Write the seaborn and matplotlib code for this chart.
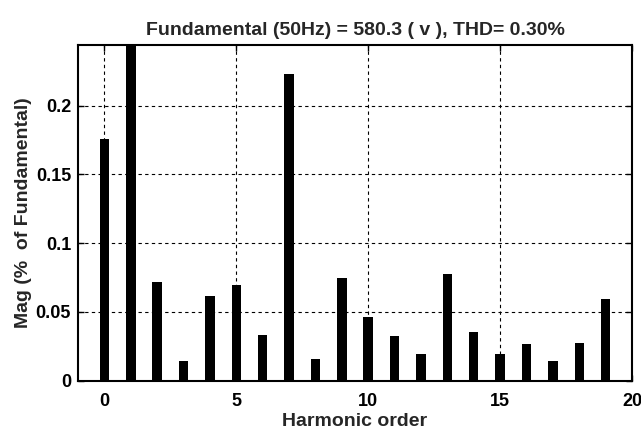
import matplotlib
matplotlib.use("Agg")
import matplotlib.pyplot as plt
import seaborn as sns
import pandas as pd
import numpy as np

harmonics = list(range(20))
magnitudes = [0.1756, 100.0, 0.0720, 0.0145, 0.0616, 0.0696, 0.0335, 0.2228, 0.0156, 0.0745,
              0.0463, 0.0323, 0.0192, 0.0778, 0.0356, 0.0192, 0.0265, 0.0145, 0.0276, 0.0592]
x_ticks = [0, 5, 10, 15, 20]
y_ticks = [0, 0.05, 0.1, 0.15, 0.2]
y_tick_labels = ["0", "0.05", "0.1", "0.15", "0.2"]
title = "Fundamental (50Hz) = 580.3 ( v ), THD= 0.30%"

sns.set_theme(style="white")
plt.rcParams['font.family'] = ['Liberation Sans', 'DejaVu Sans']
plt.rcParams['font.weight'] = 'bold'

df = pd.DataFrame({"h": harmonics, "mag": magnitudes})

fig = plt.figure(figsize=(6.41, 4.30), dpi=100)
ax = fig.add_axes([0.1217, 0.1147, 0.8643, 0.7813])

sns.barplot(data=df, x="h", y="mag", native_scale=True, width=0.36,
            color="black", edgecolor="black", linewidth=0, saturation=1,
            ax=ax, errorbar=None)

ax.set_xlim(-1, 20)
ax.set_ylim(0, 0.2444)
ax.set_xticks(x_ticks)
ax.set_xticklabels([str(t) for t in x_ticks])
ax.set_yticks(y_ticks)
ax.set_yticklabels(y_tick_labels)

ax.grid(True, color="black", linestyle=(0, (3, 3)), linewidth=0.8)
ax.set_axisbelow(True)

for s in ax.spines.values():
    s.set_visible(True)
    s.set_color("black")
    s.set_linewidth(1.5)

ax.tick_params(direction="in", length=4, width=1, top=True, right=True,
               bottom=True, left=True, labelsize=13, colors="black", pad=5)
ax.tick_params(axis="x", pad=9)
for lab in ax.get_xticklabels() + ax.get_yticklabels():
    lab.set_fontweight("bold")

ax.set_xlabel("Harmonic order", fontsize=14, fontweight="bold", labelpad=2)
ax.set_ylabel("Mag (%  of Fundamental)", fontsize=14, fontweight="bold", labelpad=3)
ax.set_title(title, fontsize=14, fontweight="bold", pad=7)

fig.savefig("out.png", dpi=100)
